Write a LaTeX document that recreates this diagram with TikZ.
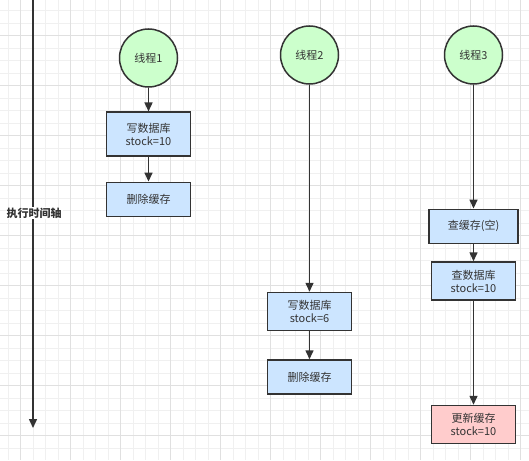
\documentclass[tikz,border=0pt]{standalone}
\usepackage{fontspec}
\setmainfont{Noto Sans CJK SC}
\usetikzlibrary{arrows.meta,positioning}
\definecolor{gridminor}{HTML}{F0F0F0}
\definecolor{gridmajor}{HTML}{E0E0E0}
\definecolor{threadgreen}{HTML}{CCFFCC}
\definecolor{stepblue}{HTML}{CCE5FF}
\definecolor{steprose}{HTML}{FFCCCC}
\definecolor{inkgray}{HTML}{333333}

\begin{document}
\begin{tikzpicture}[x=1pt,y=-1pt,font=\fontsize{11}{13}\selectfont,
    thread/.style={circle,draw=inkgray,line width=1.5pt,fill=threadgreen,
      minimum size=58pt,inner sep=0pt,text=inkgray},
    stepbox/.style={rectangle,draw=inkgray,line width=1.5pt,fill=stepblue,
      minimum width=84pt,minimum height=34pt,inner sep=0pt,align=center,text=inkgray},
    flow/.style={draw=inkgray,line width=1.5pt,-{Triangle[length=9pt,width=8pt]}}]
    % background and grid
    \useasboundingbox (0,0) rectangle (529,460);
    \fill[white] (0,0) rectangle (529,460);
    \foreach \x in {8.2,20.7,...,529} \draw[gridminor,line width=0.7pt] (\x,0) -- (\x,460);
    \foreach \y in {10.7,23.2,...,460} \draw[gridminor,line width=0.7pt] (0,\y) -- (529,\y);
    \foreach \x in {20.7,70.7,...,529} \draw[gridmajor,line width=0.8pt] (\x,0) -- (\x,460);
    \foreach \y in {35.7,85.7,...,460} \draw[gridmajor,line width=0.8pt] (0,\y) -- (529,\y);
    % time axis
    \coordinate (axtop) at (33,0);
    \coordinate (axend) at (33,428);
    \draw[flow] (axtop) -- (axend);
    \node[fill=white,inner sep=1pt,font=\fontsize{11}{13}\selectfont\bfseries,text=inkgray] (axlabel) at (34,213) {执行时间轴};
    % threads
    \node[thread] (t1) at (148.5,58) {线程1};
    \node[thread] (t2) at (309.5,55) {线程2};
    \node[thread] (t3) at (473.5,55) {线程3};
    % thread 1
    \node[stepbox,minimum height=44pt] (w1) at (148.5,134.2) {写数据库\\stock=10};
    \node[stepbox] (d1) at (148.5,199.3) {删除缓存};
    % thread 2
    \node[stepbox,minimum height=38pt] (w2) at (309.5,311.5) {写数据库\\stock=6};
    \node[stepbox] (d2) at (309.5,377) {删除缓存};
    % thread 3
    \node[stepbox,minimum width=89pt] (q1) at (473.5,226.3) {查缓存(空)};
    \node[stepbox,minimum height=38pt] (q2) at (473.5,281) {查数据库\\stock=10};
    \node[stepbox,minimum height=38pt,fill=steprose] (u1) at (473.5,424.5) {更新缓存\\stock=10};
    % connectors
    \draw[flow] (t1) -- (w1);
    \draw[flow] (w1) -- (d1);
    \draw[flow] (t2) -- (w2);
    \draw[flow] (w2) -- (d2);
    \draw[flow] (t3) -- (q1);
    \draw[flow] (q1) -- (q2);
    \draw[flow] (q2) -- (u1);
  \end{tikzpicture}
\end{document}
